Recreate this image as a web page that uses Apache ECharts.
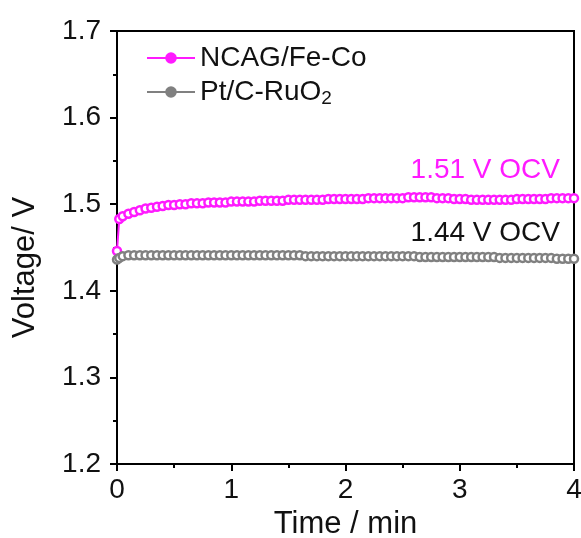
<!DOCTYPE html>
<html>
<head>
<meta charset="utf-8">
<script src="https://cdn.jsdelivr.net/npm/echarts@6/dist/echarts.min.js"></script>
<style>html,body{margin:0;padding:0;background:#fff}#c{width:581px;height:538px}</style>
</head>
<body>
<div id="c"></div>
<script>
var times = [0, 0.02, 0.05, 0.10, 0.15, 0.20, 0.25, 0.30, 0.35, 0.40, 0.45, 0.50,
  0.55, 0.60, 0.65, 0.70, 0.75, 0.80, 0.85, 0.90, 0.95, 1.00,
  1.05, 1.10, 1.15, 1.20, 1.25, 1.30, 1.35, 1.40, 1.45, 1.50,
  1.55, 1.60, 1.65, 1.70, 1.75, 1.80, 1.85, 1.90, 1.95, 2.00,
  2.05, 2.10, 2.15, 2.20, 2.25, 2.30, 2.35, 2.40, 2.45, 2.50,
  2.55, 2.60, 2.65, 2.70, 2.75, 2.80, 2.85, 2.90, 2.95, 3.00,
  3.05, 3.10, 3.15, 3.20, 3.25, 3.30, 3.35, 3.40, 3.45, 3.50,
  3.55, 3.60, 3.65, 3.70, 3.75, 3.80, 3.85, 3.90, 3.95, 4.00];

var ncagFeCo = [1.446, 1.483, 1.486, 1.489, 1.491, 1.493, 1.495, 1.496, 1.497, 1.498, 1.499, 1.499,
  1.500, 1.500, 1.501, 1.501, 1.501, 1.502, 1.502, 1.502, 1.502, 1.503,
  1.503, 1.503, 1.503, 1.503, 1.504, 1.504, 1.504, 1.504, 1.504, 1.505,
  1.505, 1.505, 1.505, 1.505, 1.505, 1.505, 1.506, 1.506, 1.506, 1.506,
  1.506, 1.506, 1.506, 1.507, 1.507, 1.507, 1.507, 1.507, 1.507, 1.507,
  1.508, 1.508, 1.508, 1.508, 1.508, 1.507, 1.507, 1.507, 1.506, 1.506,
  1.506, 1.505, 1.505, 1.505, 1.505, 1.505, 1.505, 1.505, 1.505, 1.506,
  1.506, 1.506, 1.506, 1.506, 1.506, 1.507, 1.507, 1.507, 1.507, 1.507];

var ptCRuO2 = [1.436, 1.438, 1.440, 1.441, 1.441, 1.441, 1.441, 1.441, 1.441, 1.441, 1.441, 1.441,
  1.441, 1.441, 1.441, 1.441, 1.441, 1.441, 1.441, 1.441, 1.441, 1.441,
  1.441, 1.441, 1.441, 1.441, 1.441, 1.441, 1.441, 1.441, 1.441, 1.441,
  1.441, 1.441, 1.440, 1.440, 1.440, 1.440, 1.440, 1.440, 1.440, 1.440,
  1.440, 1.440, 1.440, 1.440, 1.440, 1.440, 1.440, 1.440, 1.440, 1.440,
  1.440, 1.440, 1.439, 1.439, 1.439, 1.439, 1.439, 1.439, 1.439, 1.439,
  1.439, 1.439, 1.439, 1.439, 1.439, 1.439, 1.438, 1.438, 1.438, 1.438,
  1.438, 1.438, 1.438, 1.438, 1.438, 1.438, 1.437, 1.437, 1.437, 1.437];

var seriesNames = ['NCAG/Fe-Co', 'Pt/C-RuO2'];
var seriesColors = ['#ff1aff', '#808080'];
var annotations = ['1.51 V OCV', '1.44 V OCV'];
var xTitle = 'Time / min';
var yTitle = 'Voltage/ V';

function pairs(xs, ys) { return xs.map(function (x, i) { return [x, ys[i]]; }); }

var FONT = 'Liberation Sans';
var chart = echarts.init(document.getElementById('c'), null, {renderer: 'canvas'});

function mkSeries(name, data, color) {
  return {
    name: name, type: 'line', data: data, animation: false,
    symbol: 'circle', symbolSize: 8, showAllSymbol: true,
    lineStyle: {color: color, width: 2},
    itemStyle: {color: '#fff', borderColor: color, borderWidth: 2.5}
  };
}

chart.setOption({
  backgroundColor: '#fff',
  animation: false,
  grid: {left: 117, right: 7, top: 31, bottom: 74, outerBoundsMode: 'none', containLabel: false,
    show: true, borderColor: '#000', borderWidth: 2, backgroundColor: 'transparent'},
  legend: {
    orient: 'vertical', left: 141, top: 39, itemGap: 6,
    itemWidth: 48, itemHeight: 12,
    data: [
      {name: seriesNames[0], itemStyle: {color: seriesColors[0], borderColor: seriesColors[0]}},
      {name: seriesNames[1], itemStyle: {color: seriesColors[1], borderColor: seriesColors[1]}}
    ],
    formatter: function (n) { return n === 'Pt/C-RuO2' ? 'Pt/C-RuO{sub|2}' : n; },
    textStyle: {fontFamily: FONT, fontSize: 28, color: '#111',
      rich: {sub: {fontFamily: FONT, fontSize: 19, color: '#111', padding: [14, 0, 0, 0]}}}
  },
  xAxis: {
    type: 'value', min: 0, max: 4, interval: 1,
    name: xTitle, nameLocation: 'middle', nameGap: 44,
    nameTextStyle: {fontFamily: FONT, fontSize: 31, color: '#111'},
    axisLine: {show: true, onZero: false, lineStyle: {color: '#000', width: 2}},
    axisTick: {show: true, length: 7, lineStyle: {color: '#000', width: 2}},
    minorTick: {show: true, splitNumber: 2, length: 4, lineStyle: {color: '#000', width: 2}},
    axisLabel: {fontFamily: FONT, fontSize: 28, color: '#111', margin: 12, showMaxLabel: true, showMinLabel: true},
    splitLine: {show: false}
  },
  yAxis: {
    type: 'value', min: 1.2, max: 1.7, interval: 0.1,
    name: yTitle, nameLocation: 'middle', nameGap: 76,
    nameTextStyle: {fontFamily: FONT, fontSize: 31, color: '#111', padding: [0, 40, 0, 0]},
    axisLine: {show: true, onZero: false, lineStyle: {color: '#000', width: 2}},
    axisTick: {show: true, length: 7, lineStyle: {color: '#000', width: 2}},
    minorTick: {show: true, splitNumber: 2, length: 4, lineStyle: {color: '#000', width: 2}},
    axisLabel: {fontFamily: FONT, fontSize: 28, color: '#111', margin: 16,
      formatter: function (v) { return v.toFixed(1); }},
    splitLine: {show: false}
  },
  graphic: [
    {type: 'text', right: 21, top: 156, style: {text: annotations[0], fontFamily: FONT, fontSize: 28, fill: seriesColors[0]}},
    {type: 'text', right: 21, top: 219, style: {text: annotations[1], fontFamily: FONT, fontSize: 28, fill: '#111'}}
  ],
  series: [
    mkSeries(seriesNames[0], pairs(times, ncagFeCo), seriesColors[0]),
    mkSeries(seriesNames[1], pairs(times, ptCRuO2), seriesColors[1])
  ]
});
</script>
</body>
</html>
